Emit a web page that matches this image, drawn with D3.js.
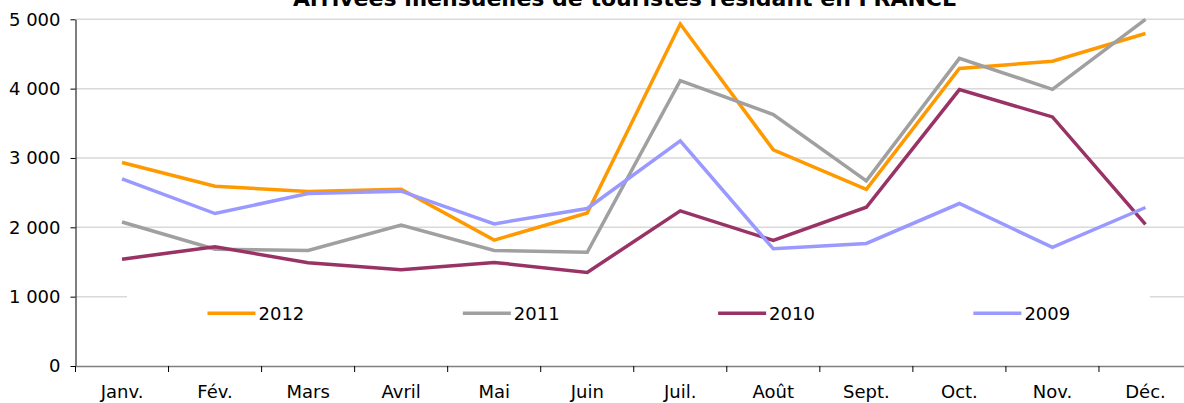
<!DOCTYPE html>
<html>
<head>
<meta charset="utf-8">
<script src="https://cdn.jsdelivr.net/npm/d3@7"></script>
<style>
  body { margin: 0; background: #fff; }
  svg { display: block; font-family: "DejaVu Sans", Verdana, sans-serif; }
</style>
</head>
<body>
<svg></svg>
<script>
const width = 1184;
const height = 403;

const months = ["Janv.", "Fév.", "Mars", "Avril", "Mai", "Juin", "Juil.", "Août", "Sept.", "Oct.", "Nov.", "Déc."];
const years = ["2012", "2011", "2010", "2009"];
const colors = ["#FF9900", "#A0A0A0", "#993366", "#9999FF"];
const v2012 = [2935, 2593, 2515, 2550, 1815, 2206, 4932, 3118, 2547, 4290, 4396, 4795];
const v2011 = [2077, 1685, 1665, 2031, 1665, 1640, 4115, 3626, 2669, 4437, 3990, 5000];
const v2010 = [1541, 1719, 1489, 1388, 1494, 1350, 2237, 1810, 2290, 3986, 3592, 2041];
const v2009 = [2698, 2199, 2487, 2521, 2050, 2271, 3246, 1690, 1767, 2343, 1710, 2286];
const series = [v2012, v2011, v2010, v2009];
const yTicks = [0, 1000, 2000, 3000, 4000, 5000];
const title = "Arrivées mensuelles de touristes résidant en FRANCE";

const margin = {left: 75.5, right: 1192, top: 19.3, bottom: 366};

const svg = d3.select('svg')
    .attr('width', width).attr('height', height);

const x = d3.scaleBand().domain(months).range([margin.left, margin.right]).padding(0);
const y = d3.scaleLinear().domain([0, 5000]).range([margin.bottom, margin.top]);

const fr = d3.formatLocale({decimal: ",", thousands: " ", grouping: [3], currency: ["", ""]});
const fmt = fr.format(",d");

// gridlines
svg.append('g')
    .selectAll('line')
    .data(yTicks.filter(d => d > 0))
    .enter().append('line')
    .attr('x1', margin.left).attr('x2', margin.right)
    .attr('y1', d => y(d)).attr('y2', d => y(d))
    .style('stroke', '#D9D9D9')
    .style('stroke-width', '1.5px');

// y axis
const yAxis = svg.append('g')
    .attr('transform', `translate(${margin.left},0)`)
    .call(d3.axisLeft(y).tickValues(yTicks).tickFormat(fmt).tickSize(5).tickPadding(10).tickSizeOuter(0));
yAxis.select('.domain').style('stroke', '#000');
yAxis.selectAll('.tick line').style('stroke', '#000');
yAxis.selectAll('text').style('font-size', '18px').style('fill', '#000')
    .style('font-family', '"DejaVu Sans", Verdana, sans-serif');

// lines
const line = d3.line()
    .x((d, i) => x(months[i]) + x.bandwidth() / 2)
    .y(d => y(d));

svg.append('g')
    .selectAll('path')
    .data(series)
    .enter().append('path')
    .attr('d', line)
    .style('fill', 'none')
    .style('stroke', (d, i) => colors[i])
    .style('stroke-width', '3.5px')
    .style('stroke-linejoin', 'miter');

// legend
const legend = svg.append('g');
legend.append('rect')
    .attr('x', 127).attr('y', 290).attr('width', 1023).attr('height', 46)
    .style('fill', '#fff');
const items = legend.selectAll('.item')
    .data(years)
    .enter().append('g')
    .attr('class', 'item')
    .attr('transform', (d, i) => `translate(${207.5 + i * 255.3},313.3)`);
items.append('line')
    .attr('x1', 0).attr('x2', 48)
    .style('stroke', (d, i) => colors[i])
    .style('stroke-width', '3.5px');
items.append('text')
    .attr('x', 51).attr('dy', '0.35em')
    .style('font-size', '18px')
    .text(d => d);

// x axis
const xAxis = svg.append('g')
    .attr('transform', `translate(0,${margin.bottom})`)
    .call(d3.axisBottom(x).tickSize(0).tickPadding(19).tickSizeOuter(0));
xAxis.select('.domain').style('stroke', '#808080').style('stroke-width', '1.5px');
xAxis.selectAll('text').style('font-size', '18px').style('fill', '#000')
    .style('font-family', '"DejaVu Sans", Verdana, sans-serif');
xAxis.selectAll('.edge')
    .data(months)
    .enter().append('line')
    .attr('class', 'edge')
    .attr('x1', d => x(d)).attr('x2', d => x(d))
    .attr('y1', 0).attr('y2', 6)
    .style('stroke', '#000');

// title
svg.append('text')
    .attr('x', 625).attr('y', 5.5)
    .attr('text-anchor', 'middle')
    .style('font-size', '22px')
    .style('font-weight', 'bold')
    .text(title);
</script>
</body>
</html>
